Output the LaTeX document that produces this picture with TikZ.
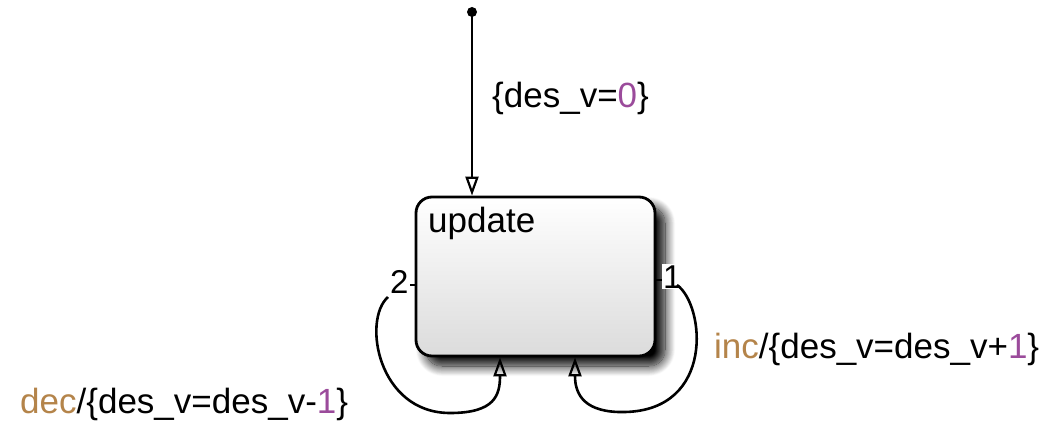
\documentclass[tikz,border=0pt]{standalone}
\usepackage{fontspec}
\setmainfont{Liberation Sans}
\usetikzlibrary{arrows.meta,shadows.blur}
\definecolor{evtcol}{RGB}{180,132,74}
\definecolor{numcol}{RGB}{155,75,155}
\begin{document}
\begin{tikzpicture}[x=1pt,y=-1pt,
  lbl/.style={anchor=base west, inner sep=0pt, font=\fontsize{35}{40}\selectfont},
  portlbl/.style={anchor=base west, inner sep=1pt, fill=white, font=\fontsize{33}{36}\selectfont},
  statebox/.style={draw, line width=2.8pt, rounded corners=16pt,
    top color=white, bottom color=black!14,
    minimum width=239pt, minimum height=159pt, inner sep=0pt,
    blur shadow={shadow xshift=10pt, shadow yshift=-10pt, shadow blur radius=10pt, shadow opacity=100, shadow blur steps=14}},
  trans/.style={line width=2.6pt, -{Triangle[open,length=19pt,width=13pt,line width=2.2pt]}},
  tick/.style={line width=2.2pt}]
\useasboundingbox (0,0) rectangle (1050,422);

% state
\node[statebox] (upd) at (535.5,276.5) {};
\node[lbl] (updname) at (428,233) {update};

% default transition
\coordinate (init) at (472,12);
\fill (init) circle (5pt);
\draw[trans] (init) -- (init |- upd.north);
\node[lbl] (deflbl) at (492,108) {\{des\_v=\textcolor{numcol}{0}\}};

% self loop 2 (dec)
\coordinate (t2) at (408,285);
\draw[tick] (t2) -- (t2 -| upd.west);
\node[portlbl] (p2) at (389,294) {2};
\coordinate (s2) at (388,297);
\coordinate (x2) at (500,0);
\draw[trans] (s2) .. controls (362,320) and (378,413) .. (450,413)
  .. controls (495,413) and (500,395) .. (x2 |- upd.south);
\node[lbl] (declbl) at (20,413) {\textcolor{evtcol}{dec}/\{des\_v=des\_v-\textcolor{numcol}{1}\}};

% self loop 1 (inc)
\coordinate (t1) at (665,280);
\draw[tick] (t1) -- (t1 -| upd.east);
\node[portlbl] (p1) at (662,288) {1};
\coordinate (s1) at (677,285);
\coordinate (x1) at (575,0);
\draw[trans] (s1) .. controls (705,305) and (715,410) .. (625,412)
  .. controls (585,413) and (575,395) .. (x1 |- upd.south);
\node[lbl] (inclbl) at (714,358) {\textcolor{evtcol}{inc}/\{des\_v=des\_v+\textcolor{numcol}{1}\}};
\end{tikzpicture}
\end{document}
